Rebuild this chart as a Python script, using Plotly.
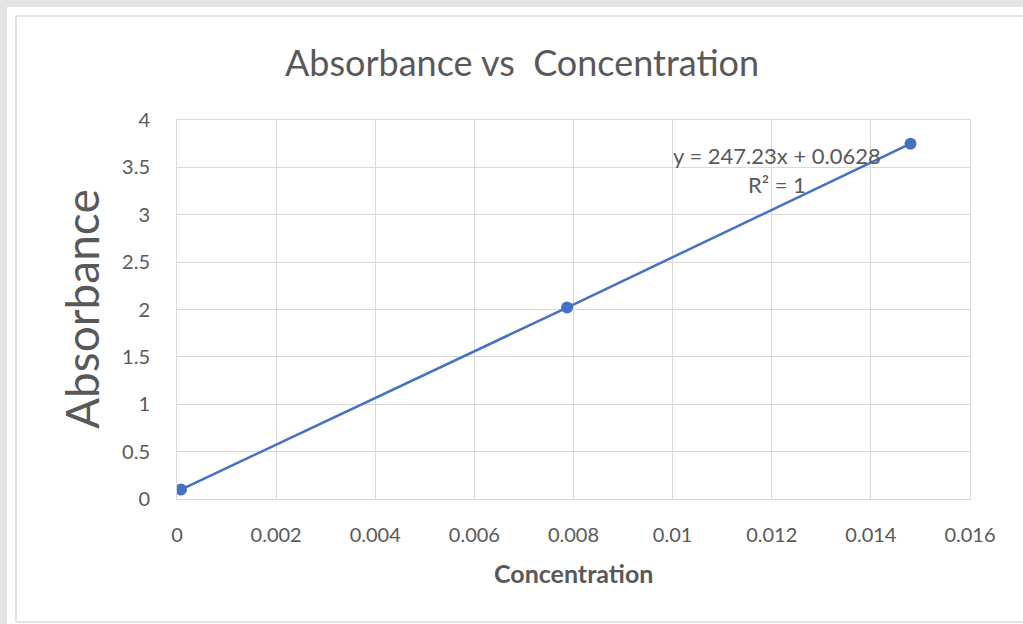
import plotly.graph_objects as go

# Data
concentration = [0.00008, 0.00787, 0.01480]
absorbance = [0.10, 2.02, 3.75]
x_ticks = [0, 0.002, 0.004, 0.006, 0.008, 0.01, 0.012, 0.014, 0.016]
x_tick_labels = ["0", "0.002", "0.004", "0.006", "0.008", "0.01", "0.012", "0.014", "0.016"]
y_ticks = [0, 0.5, 1, 1.5, 2, 2.5, 3, 3.5, 4]
y_tick_labels = ["0", "0.5", "1", "1.5", "2", "2.5", "3", "3.5", "4"]
title_text = "Absorbance vs  Concentration"
x_title = "Concentration"
y_title = "Absorbance"
equation_text = "y = 247.23x + 0.0628<br>R² = 1"

FONT = "Lato, 'Liberation Sans', sans-serif"
TXT = "#595959"
GRID = "#d9d9d9"
BLUE = "#4472C4"

fig = go.Figure()
fig.add_trace(go.Scatter(
    x=concentration, y=absorbance, mode="lines+markers",
    line=dict(color=BLUE, width=2.5),
    marker=dict(color=BLUE, size=12),
    showlegend=False, hoverinfo="x+y",
))

W, H = 1023, 624
L, R, T, B = 177, 53, 120, 125
pw, ph = W - L - R, H - T - B

def px(xp):
    return (xp - L) / pw

def py(yp):
    return (H - B - yp) / ph

fig.update_layout(
    width=W, height=H,
    margin=dict(l=L, r=R, t=T, b=B, pad=0),
    paper_bgcolor="#e4e4e4",
    plot_bgcolor="white",
    font=dict(family=FONT, color=TXT, size=20),
    xaxis=dict(
        range=[0, 0.016], tickvals=x_ticks, ticktext=x_tick_labels,
        showgrid=True, gridcolor=GRID, gridwidth=1,
        showline=True, linecolor=GRID, linewidth=1, mirror=True,
        zeroline=False, ticks="", ticklabelstandoff=18,
        tickfont=dict(size=20, color=TXT, family=FONT),
    ),
    yaxis=dict(
        range=[0, 4], tickvals=y_ticks, ticktext=y_tick_labels,
        showgrid=True, gridcolor=GRID, gridwidth=1,
        showline=True, linecolor=GRID, linewidth=1, mirror=True,
        zeroline=False, ticks="", ticklabelstandoff=22,
        tickfont=dict(size=20, color=TXT, family=FONT),
    ),
    shapes=[
        dict(type="rect", xref="paper", yref="paper", layer="below",
             x0=px(7), x1=px(1100), y0=py(700), y1=py(7),
             fillcolor="white", line=dict(width=0)),
        dict(type="rect", xref="paper", yref="paper", layer="below",
             x0=px(16), x1=px(1100), y0=py(622), y1=py(16),
             fillcolor="rgba(0,0,0,0)", line=dict(color=GRID, width=1.5)),
    ],
    annotations=[
        dict(text=title_text, xref="paper", yref="paper",
             x=px(522), y=py(62), xanchor="center", yanchor="middle",
             showarrow=False, font=dict(size=36, color=TXT, family=FONT)),
        dict(text=x_title, xref="paper", yref="paper",
             x=px(573), y=py(573), xanchor="center", yanchor="middle",
             showarrow=False, font=dict(size=25, color=TXT, family=FONT, weight="bold")),
        dict(text=y_title, xref="paper", yref="paper",
             x=px(81), y=py(309), xanchor="center", yanchor="middle", textangle=-90,
             showarrow=False, font=dict(size=46, color=TXT, family=FONT)),
        dict(text=equation_text, xref="x", yref="y",
             x=0.0121, y=3.475, xanchor="center", yanchor="middle",
             showarrow=False, font=dict(size=22, color=TXT, family=FONT)),
    ],
)

fig.write_html(
    "out.html",
    config={"displayModeBar": False},
    post_script="document.body.style.margin='0';document.body.style.overflow='hidden';",
)
